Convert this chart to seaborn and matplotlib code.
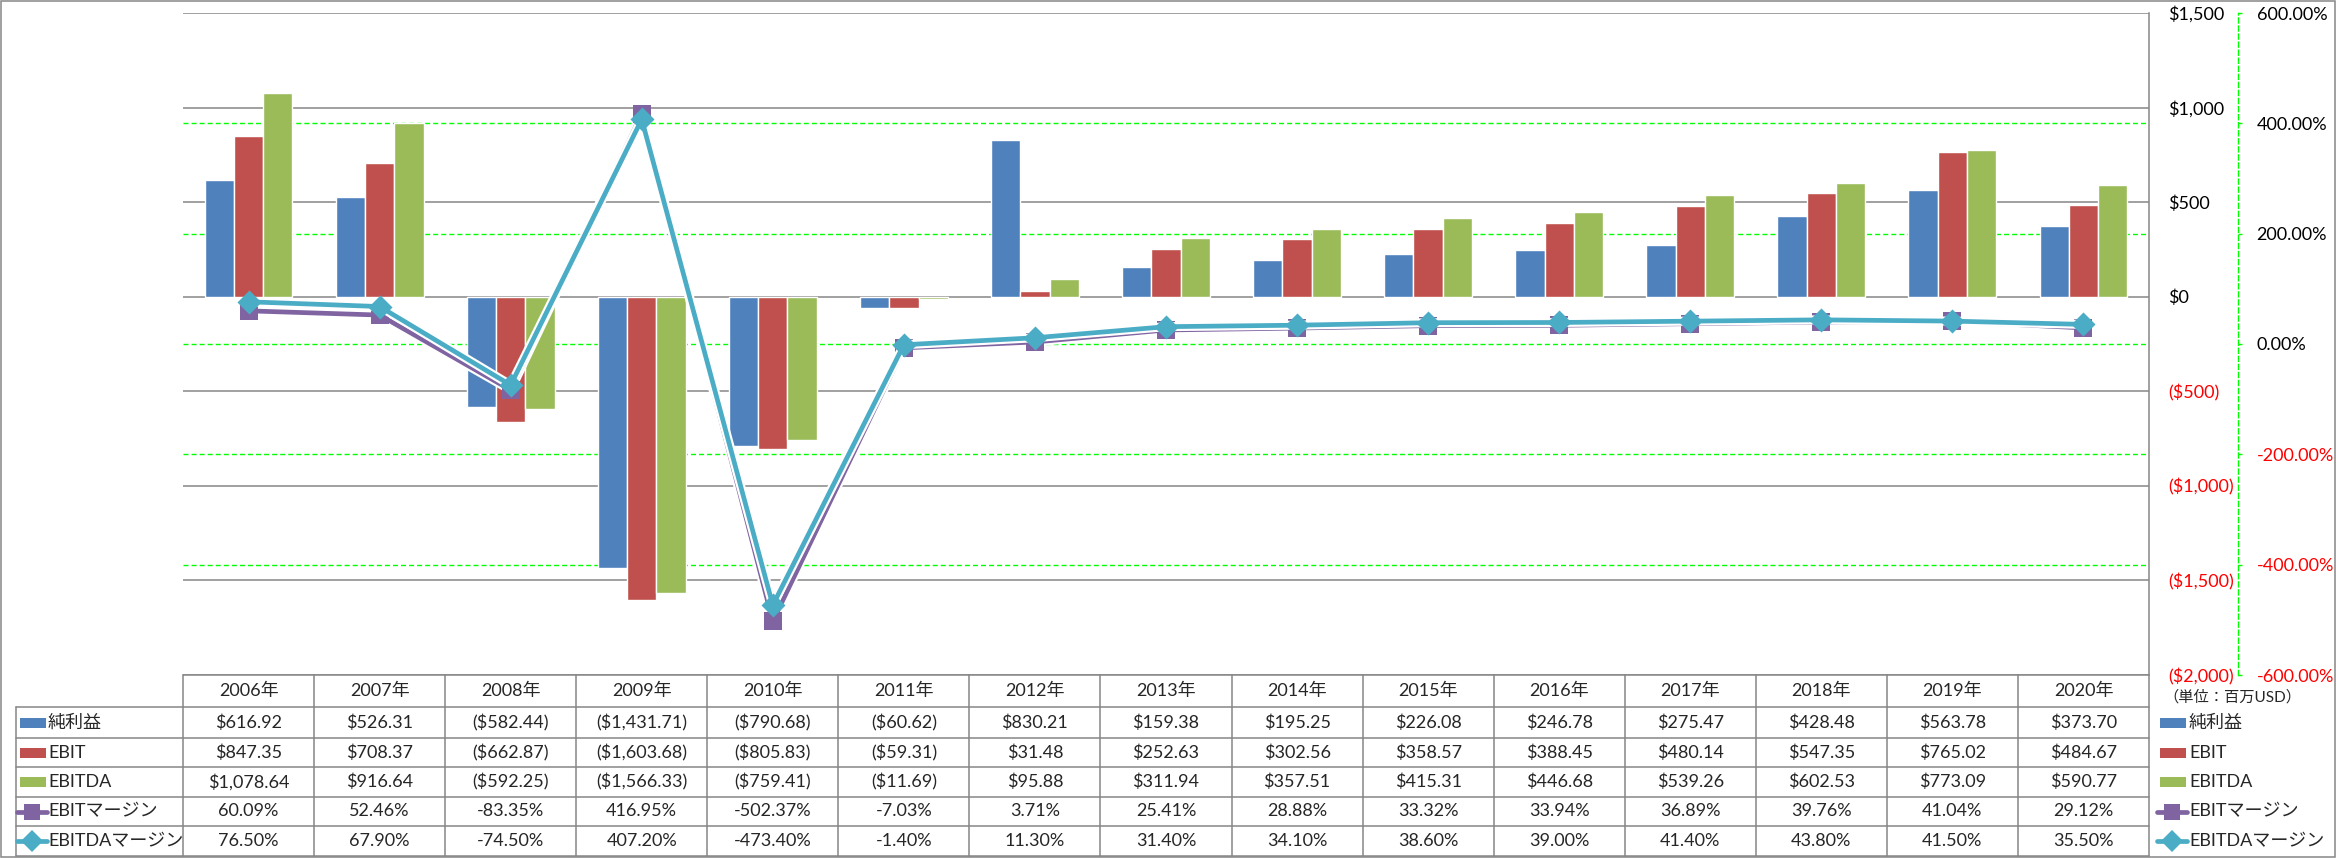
import matplotlib
matplotlib.use("Agg")
import matplotlib.pyplot as plt
import matplotlib.patheffects as pe
from matplotlib.transforms import blended_transform_factory
from matplotlib.lines import Line2D
from matplotlib.patches import Rectangle
import numpy as np
import pandas as pd
import seaborn as sns

# data (単位: 百万USD)
years = ["2006年", "2007年", "2008年", "2009年", "2010年", "2011年", "2012年", "2013年",
         "2014年", "2015年", "2016年", "2017年", "2018年", "2019年", "2020年"]
net_income = [616.92, 526.31, -582.44, -1431.71, -790.68, -60.62, 830.21, 159.38,
              195.25, 226.08, 246.78, 275.47, 428.48, 563.78, 373.70]
ebit = [847.35, 708.37, -662.87, -1603.68, -805.83, -59.31, 31.48, 252.63,
        302.56, 358.57, 388.45, 480.14, 547.35, 765.02, 484.67]
ebitda = [1078.64, 916.64, -592.25, -1566.33, -759.41, -11.69, 95.88, 311.94,
          357.51, 415.31, 446.68, 539.26, 602.53, 773.09, 590.77]
ebit_margin = [60.09, 52.46, -83.35, 416.95, -502.37, -7.03, 3.71, 25.41,
               28.88, 33.32, 33.94, 36.89, 39.76, 41.04, 29.12]
ebitda_margin = [76.50, 67.90, -74.50, 407.20, -473.40, -1.40, 11.30, 31.40,
                 34.10, 38.60, 39.00, 41.40, 43.80, 41.50, 35.50]

bar_names = ["純利益", "EBIT", "EBITDA"]
line_names = ["EBITマージン", "EBITDAマージン"]
BLUE, RED, GREEN = "#4F81BD", "#C0504D", "#9BBB59"
PURPLE, CYAN = "#8064A2", "#4BACC6"
GRID = "#868686"
LIME = "#00FF00"
FS = 13

sns.set_style("white")
plt.rcParams["font.family"] = ["Lato", "Noto Sans CJK JP", "DejaVu Sans"]

W, H = 2336, 858
fx = lambda x: x / W
fy = lambda y: 1 - y / H

fig = plt.figure(figsize=(W / 100, H / 100), dpi=100)
L, R, T, B = 183, 2149, 13, 675
ax = fig.add_axes([fx(L), fy(B), (R - L) / W, (B - T) / H])

df = pd.DataFrame({
    "year": years * 3,
    "series": [n for n in bar_names for _ in years],
    "value": net_income + ebit + ebitda,
})
sns.barplot(data=df, x="year", y="value", hue="series", order=years, hue_order=bar_names,
            palette=[BLUE, RED, GREEN], width=0.67, saturation=1, errorbar=None,
            legend=False, ax=ax, zorder=3)

ax2 = ax.twinx()
idx = np.arange(len(years))
stroke = [pe.Stroke(linewidth=6.5, foreground="white"), pe.Normal()]
sns.lineplot(x=idx, y=ebit_margin, ax=ax2, color=PURPLE, linewidth=3.4,
             path_effects=stroke, zorder=3)
sns.scatterplot(x=idx, y=ebit_margin, ax=ax2, color=PURPLE, marker="s", s=150,
                linewidth=0, zorder=4, legend=False)
sns.lineplot(x=idx, y=ebitda_margin, ax=ax2, color=CYAN, linewidth=3.4,
             path_effects=stroke, zorder=5)
sns.scatterplot(x=idx, y=ebitda_margin, ax=ax2, color=CYAN, marker="D", s=150,
                linewidth=0, zorder=6, legend=False)

# primary axis (right side labels)
ax.set_ylim(-2000, 1500)
pticks = list(range(-2000, 1501, 500))
def money_tick(v):
    s = f"${abs(v):,.0f}"
    return f"({s})" if v < 0 else s
ax.set_yticks(pticks, [money_tick(v) for v in pticks])
ax.yaxis.tick_right()
ax.tick_params(axis="y", length=0, pad=13.7, labelsize=FS)
ax.tick_params(axis="x", bottom=False, labelbottom=False)
ax.set_xlabel("")
ax.set_ylabel("")
ax.grid(axis="y", color=GRID, linewidth=1.1)
ax.grid(axis="x", visible=False)
ax.set_axisbelow(True)
for s in ["left", "top", "bottom"]:
    ax.spines[s].set_visible(False)
ax.spines["right"].set_color(GRID)
ax.spines["right"].set_linewidth(1.1)
for tk, v in zip(ax.yaxis.get_major_ticks(), pticks):
    tk.label2.set_color("#FF0000" if v < 0 else "black")

# secondary axis
ax2.set_ylim(-600, 600)
sticks = list(range(-600, 601, 200))
ax2.set_yticks(sticks, [f"{v:.2f}%" for v in sticks])
ax2.tick_params(axis="y", direction="out", length=3, width=1, color=LIME, pad=10.5, labelsize=FS)
for s in ["left", "top", "bottom"]:
    ax2.spines[s].set_visible(False)
ax2.spines["right"].set_position(("outward", 64))
ax2.spines["right"].set_color(LIME)
ax2.spines["right"].set_linestyle((0, (3.6, 2.2)))
ax2.spines["right"].set_linewidth(1)
ax2.set_ylabel("")
for tk, v in zip(ax2.yaxis.get_major_ticks(), sticks):
    tk.label2.set_color("#FF0000" if v < 0 else "black")

# green dashed secondary gridlines, behind the bars
gtrans = blended_transform_factory(ax.transAxes, ax2.transData)
ax.hlines(sticks[1:-1], 0, 1, transform=gtrans, colors=LIME, linewidth=1,
          linestyles=(0, (3.6, 2.2)), zorder=1.5)

ax.set_xlim(-0.5, len(years) - 0.5)

# data table
ctrans = blended_transform_factory(ax.transData, fig.transFigure)
row_lines = [675, 707, 738, 767, 797, 826, 856]
row_mid = [(a + b) / 2 for a, b in zip(row_lines[:-1], row_lines[1:])]
fig.add_artist(Line2D([fx(L), fx(R)], [fy(row_lines[0])] * 2, color=GRID, lw=1.1))
for y in row_lines[1:]:
    fig.add_artist(Line2D([fx(16), fx(R)], [fy(y)] * 2, color=GRID, lw=1.1))
fig.add_artist(Line2D([fx(16), fx(16)], [fy(707), fy(856)], color=GRID, lw=1.1))
for k in range(len(years) + 1):
    fig.add_artist(Line2D([k - 0.5] * 2, [fy(675), fy(856)], transform=ctrans, color=GRID, lw=1.1))

def money(v):
    s = f"${abs(v):,.2f}"
    return f"({s})" if v < 0 else s

rows = [[money(v) for v in net_income], [money(v) for v in ebit], [money(v) for v in ebitda],
        [f"{v:.2f}%" for v in ebit_margin], [f"{v:.2f}%" for v in ebitda_margin]]
for i, yr in enumerate(years):
    fig.text(i, fy(row_mid[0]), yr, transform=ctrans, ha="center", va="center", fontsize=FS)
    for r, vals in enumerate(rows):
        fig.text(i, fy(row_mid[r + 1]), vals[i], transform=ctrans, ha="center", va="center", fontsize=FS)

def key(x0, yc, kind, color, marker=None):
    if kind == "bar":
        fig.add_artist(Rectangle((fx(x0), fy(yc + 5)), 26 / W, 10 / H, transform=fig.transFigure,
                                 color=color, lw=0))
    else:
        fig.add_artist(Line2D([fx(x0 - 3), fx(x0 + 27)], [fy(yc)] * 2, color=color, lw=3.4))
        fig.add_artist(Line2D([fx(x0 + 12)], [fy(yc)], color=color, marker=marker,
                              markersize=11, markeredgewidth=0, linestyle="none"))

names = bar_names + line_names
kinds = [("bar", BLUE, None), ("bar", RED, None), ("bar", GREEN, None),
         ("line", PURPLE, "s"), ("line", CYAN, "D")]
for r, (name, (kind, col, mk)) in enumerate(zip(names, kinds)):
    yc = row_mid[r + 1]
    key(20, yc, kind, col, mk)
    fig.text(fx(48), fy(yc), name, ha="left", va="center", fontsize=FS)
    key(2160, yc, kind, col, mk)
    fig.text(fx(2189), fy(yc), name, ha="left", va="center", fontsize=FS)

fig.text(fx(2163), fy(697), "（単位：百万USD）", ha="left", va="center", fontsize=11)

# outer border
fig.add_artist(Rectangle((fx(1), fy(857)), (W - 2) / W, (H - 2) / H, transform=fig.transFigure,
                         fill=False, edgecolor=GRID, lw=1.1))

fig.savefig("out.png", dpi=100)
